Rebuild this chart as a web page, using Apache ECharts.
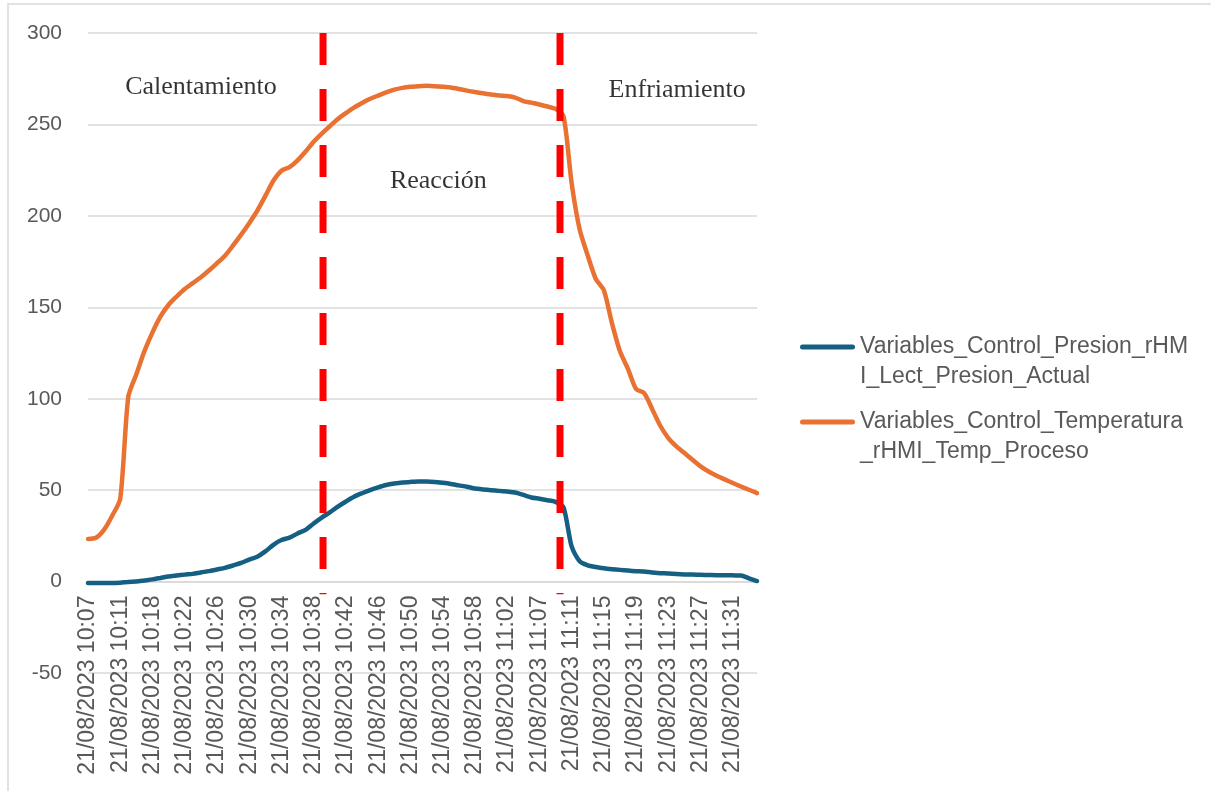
<!DOCTYPE html>
<html>
<head>
<meta charset="utf-8">
<script src="https://cdn.jsdelivr.net/npm/echarts@6/dist/echarts.min.js"></script>
<style>
  html, body { margin: 0; padding: 0; background: #ffffff; }
  #chart { width: 1211px; height: 791px; }
</style>
</head>
<body>
<div id="chart"></div>
<script>
// Sampling date and clock times of the batch log
const logDate = '21/08/2023';
const clockTimes = [
  '10:07','10:08','10:09','10:10','10:11','10:15','10:16','10:17',
  '10:18','10:19','10:20','10:21','10:22','10:23','10:24','10:25',
  '10:26','10:27','10:28','10:29','10:30','10:31','10:32','10:33',
  '10:34','10:35','10:36','10:37','10:38','10:39','10:40','10:41',
  '10:42','10:43','10:44','10:45','10:46','10:47','10:48','10:49',
  '10:50','10:51','10:52','10:53','10:54','10:55','10:56','10:57',
  '10:58','10:59','11:00','11:01','11:02','11:03','11:04','11:05',
  '11:07','11:08','11:09','11:10','11:11','11:12','11:13','11:14',
  '11:15','11:16','11:17','11:18','11:19','11:20','11:21','11:22',
  '11:23','11:24','11:25','11:26','11:27','11:28','11:29','11:30',
  '11:31','11:32','11:33','11:34'
];

// Series names
const pressureName = 'Variables_Control_Presion_rHMI_Lect_Presion_Actual';
const temperatureName = 'Variables_Control_Temperatura_rHMI_Temp_Proceso';

// Current pressure reading
const pressure = [
  -0.8, -0.8, -0.8, -0.8, -0.6, -0.2, 0, 0.6,
  1.2, 2, 2.8, 3.3, 3.8, 4.2, 5, 5.7,
  6.6, 7.5, 8.8, 10.2, 12, 13.6, 16.5, 20.1,
  22.7, 24, 26.3, 28.3, 31.8, 35, 37.8, 41,
  43.8, 46.4, 48.3, 50, 51.5, 52.8, 53.6, 54.2,
  54.5, 54.7, 54.7, 54.5, 54, 53.4, 52.6, 51.9,
  50.9, 50.4, 50, 49.6, 49.2, 48.7, 47.4, 46,
  45.3, 44.5, 43.6, 40.5, 19.2, 11.1, 8.9, 8,
  7.3, 6.8, 6.4, 6, 5.7, 5.5, 4.9, 4.6,
  4.4, 4.1, 3.9, 3.8, 3.7, 3.6, 3.5, 3.5,
  3.4, 3.3, 1.8, 0.3
];

// Process temperature
const temperature = [
  23.3, 24, 28.4, 36, 45.3, 101, 113.4, 126,
  136.3, 145, 151.4, 155.9, 160, 163.2, 166.4, 170.1,
  174.1, 178.2, 183.8, 189.7, 196, 202.8, 210.9, 219.2,
  224.7, 226.7, 230.4, 235.2, 240.5, 245, 249, 253,
  256.2, 259.2, 261.7, 264, 265.8, 267.5, 269, 270,
  270.6, 270.9, 271.1, 270.9, 270.6, 270.2, 269.4, 268.5,
  267.7, 267, 266.4, 265.8, 265.5, 264.7, 262.8, 261.9,
  260.9, 259.8, 258.5, 254.5, 218, 192.5, 178.3, 165.5,
  159.3, 141.4, 125.9, 116.2, 105.3, 103.1, 94.3, 85.2,
  78.5, 73.9, 70.3, 66.6, 63, 60.2, 57.9, 55.9,
  53.9, 52, 50.2, 48.4
];

// Phase boundaries (position along the sample index) and the span they cover
const phaseBounds = [29.16, 58.56];
const boundTop = 300;
const boundBottom = -7;

// Phase captions: name, sample-index position, value-axis height
const phaseNames = ['Calentamiento', 'Reacción', 'Enfriamiento'];
const phaseX = [14.02, 43.46, 73.1];
const phaseY = [270.5, 218.9, 268.6];

// Y axis ticks
const yMin = -50, yMax = 300, yStep = 50;

const categories = clockTimes.map(t => logDate + ' ' + t);

const axisTextColor = '#595959';
const gridColor = '#d9d9d9';
const sans = 'Liberation Sans, Arial, sans-serif';
const serif = 'Liberation Serif, Times New Roman, serif';

// Plot box: the value axis spans the full height, while the time labels
// hang from the zero line, so a second grid ends exactly at value 0.
const plotLeft = 88, plotTop = 33, plotWidth = 669, plotHeight = 640;
const zeroHeight = plotHeight * (yMax - 0) / (yMax - yMin);

// Legend entries wrap after 29 characters; a blank first line keeps the
// key line level with the first text line.
const legendWrap = 29;

const boundSeries = phaseBounds.map((b, k) => ({
  id: 'bound' + k,
  type: 'line',
  xAxisIndex: 2,
  yAxisIndex: 0,
  data: [[b, boundTop], [b, boundBottom]],
  symbol: 'none',
  silent: true,
  z: 5,
  lineStyle: { color: '#ff0000', width: 7, type: [32, 24], cap: 'butt' },
  tooltip: { show: false }
}));

const chart = echarts.init(document.getElementById('chart'), null, { renderer: 'canvas' });

chart.setOption({
  animation: false,
  backgroundColor: '#ffffff',
  graphic: [{
    type: 'rect',
    silent: true,
    z: -10,
    shape: { x: 8, y: 4, width: 1400, height: 1000 },
    style: { fill: 'none', stroke: gridColor, lineWidth: 1.5 }
  }],
  grid: [{
    left: plotLeft, top: plotTop, width: plotWidth, height: plotHeight,
    containLabel: false,
    outerBoundsMode: 'none'
  }, {
    left: plotLeft, top: plotTop, width: plotWidth, height: zeroHeight,
    containLabel: false,
    outerBoundsMode: 'none'
  }],
  legend: {
    orient: 'vertical',
    left: 800,
    top: 302,
    padding: 0,
    itemWidth: 55,
    itemHeight: 5,
    itemGap: -15,
    icon: 'path://M2.5,0 L52.5,0 A2.5,2.5 0 0 1 52.5,5 L2.5,5 A2.5,2.5 0 0 1 2.5,0 Z',
    data: [pressureName, temperatureName],
    formatter: name => ' \n' + name.slice(0, legendWrap) + '\n' + name.slice(legendWrap),
    textStyle: {
      fontFamily: sans,
      fontSize: 23,
      color: axisTextColor,
      lineHeight: 30
    }
  },
  xAxis: [{
    // time axis carrying the data
    type: 'category',
    gridIndex: 0,
    data: categories,
    boundaryGap: false,
    axisLine: { show: false },
    axisTick: { show: false },
    axisLabel: { show: false },
    splitLine: { show: false }
  }, {
    // same time axis, labels hanging from the zero line
    type: 'category',
    gridIndex: 1,
    data: categories,
    boundaryGap: false,
    axisLine: { show: true, onZero: false, lineStyle: { color: gridColor, width: 1.5 } },
    axisTick: { show: false },
    splitLine: { show: false },
    axisLabel: {
      interval: 3,
      rotate: 90,
      margin: 14,
      color: axisTextColor,
      fontFamily: sans,
      fontSize: 23
    }
  }, {
    // continuous sample index for the phase dividers and captions
    type: 'value',
    gridIndex: 0,
    min: 0,
    max: categories.length - 1,
    show: false
  }],
  yAxis: [{
    type: 'value',
    gridIndex: 0,
    min: yMin,
    max: yMax,
    interval: yStep,
    axisLine: { show: false, onZero: false },
    axisTick: { show: false },
    axisLabel: { margin: 26, color: axisTextColor, fontFamily: sans, fontSize: 21 },
    splitLine: { lineStyle: { color: gridColor, width: 1.5 } }
  }, {
    type: 'value',
    gridIndex: 1,
    min: 0,
    max: yMax,
    show: false
  }],
  series: [{
    name: pressureName,
    type: 'line',
    xAxisIndex: 0,
    yAxisIndex: 0,
    data: pressure,
    symbol: 'none',
    smooth: 0.25,
    z: 3,
    color: '#156082',
    lineStyle: { width: 4.5, color: '#156082', cap: 'round', join: 'round' }
  }, {
    name: temperatureName,
    type: 'line',
    xAxisIndex: 0,
    yAxisIndex: 0,
    data: temperature,
    symbol: 'none',
    smooth: 0.25,
    z: 3,
    color: '#E97132',
    lineStyle: { width: 4.5, color: '#E97132', cap: 'round', join: 'round' }
  }].concat(boundSeries, [{
    id: 'phaseCaptions',
    type: 'scatter',
    xAxisIndex: 2,
    yAxisIndex: 0,
    symbolSize: 0,
    silent: true,
    z: 6,
    data: phaseNames.map((n, k) => ({ name: n, value: [phaseX[k], phaseY[k]] })),
    label: {
      show: true,
      position: 'inside',
      formatter: '{b}',
      fontFamily: serif,
      fontSize: 26,
      color: '#000000'
    }
  }])
});
</script>
</body>
</html>
